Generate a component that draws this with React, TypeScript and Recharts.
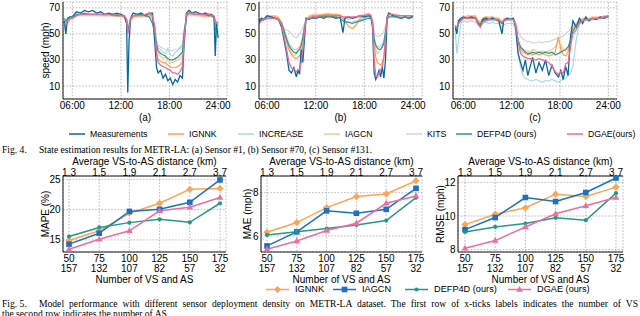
import React from 'react';
import { LineChart, Line, XAxis, YAxis, CartesianGrid, Label } from 'recharts';

const SANS = '"Liberation Sans", Arial, Helvetica, sans-serif';
const SERIF = '"Liberation Serif", "Times New Roman", serif';

// ---------------- Fig. 4 data ----------------
const hourTicks = [6, 12, 18, 24];
const hourTickLabels = ['06:00', '12:00', '18:00', '24:00'];
const speedTicks = [10, 30, 50, 70];

// (a) Sensor #1
const timeA = [5.0, 5.2, 5.4, 5.7, 6.0, 6.5, 7.0, 7.5, 8.0, 8.5, 9.0, 9.5, 10.0, 10.5, 11.0, 11.5, 12.0, 12.4, 12.7, 12.85, 13.0, 13.2, 13.5, 14.0, 14.5, 15.0, 15.5, 15.9, 16.2, 16.4, 16.6, 16.9, 17.2, 17.5, 17.8, 18.1, 18.4, 18.7, 19.0, 19.3, 19.6, 19.8, 20.1, 20.4, 20.8, 21.2, 21.6, 22.0, 22.4, 22.8, 23.2, 23.5, 23.65, 23.8, 24.0];
const measA = [60, 50, 62, 63, 63, 67, 66, 68, 67, 68, 66, 67, 65, 66, 65, 66, 65, 64, 58, 5, 44, 62, 66, 65, 66, 64, 66, 66, 42, 24, 20, 22, 16, 19, 14, 16, 11, 15, 13, 18, 16, 42, 66, 68, 66, 67, 66, 65, 66, 65, 65, 63, 33, 58, 47];
const ignnkA = [58, 56, 58, 61, 62, 64, 65, 65, 65, 65, 65, 65, 64, 65, 64, 64, 64, 63, 60, 52, 55, 61, 63, 64, 64, 64, 65, 63, 52, 36, 30, 29, 28, 28, 26, 25, 24, 24, 25, 26, 29, 48, 64, 66, 65, 65, 65, 64, 64, 64, 64, 63, 58, 57, 56];
const increaseA = [61, 58, 60, 62, 63, 64, 65, 65, 65, 65, 64, 65, 64, 64, 64, 64, 64, 63, 61, 55, 57, 61, 63, 64, 64, 64, 64, 62, 55, 44, 39, 38, 36, 35, 39, 34, 33, 36, 37, 39, 41, 52, 63, 65, 65, 65, 64, 64, 64, 64, 64, 63, 60, 59, 58];
const iagcnA = [59, 57, 59, 62, 62, 64, 64, 65, 65, 64, 65, 64, 64, 64, 64, 63, 64, 63, 60, 54, 56, 61, 63, 64, 63, 64, 64, 62, 54, 40, 35, 33, 31, 32, 29, 28, 28, 29, 30, 31, 34, 50, 63, 65, 65, 64, 64, 64, 63, 64, 63, 63, 59, 58, 57];
const kitsA = [60, 58, 60, 62, 63, 64, 64, 64, 64, 64, 64, 64, 64, 64, 64, 64, 63, 63, 61, 56, 58, 61, 63, 63, 63, 63, 63, 61, 55, 45, 41, 40, 39, 38, 38, 37, 37, 38, 38, 40, 42, 53, 63, 64, 64, 64, 64, 63, 63, 63, 63, 62, 60, 60, 59];
const defpA = [62, 60, 61, 63, 63, 65, 65, 66, 65, 65, 65, 65, 65, 65, 65, 64, 64, 64, 61, 53, 56, 62, 64, 65, 65, 64, 63, 58, 50, 42, 37, 35, 34, 33, 31, 30, 30, 31, 32, 34, 36, 50, 64, 66, 66, 65, 65, 65, 65, 64, 64, 63, 55, 50, 48];
const dgaeA = [58, 57, 60, 62, 62, 64, 65, 65, 65, 65, 65, 65, 65, 65, 64, 65, 64, 64, 61, 50, 54, 62, 64, 64, 64, 65, 66, 64, 55, 35, 28, 26, 25, 24, 23, 22, 20, 20, 19, 21, 25, 45, 65, 66, 66, 65, 65, 65, 65, 65, 64, 64, 60, 59, 58];

// (b) Sensor #70
const timeB = [5.0, 5.3, 5.6, 6.0, 6.5, 7.0, 7.4, 7.8, 8.1, 8.4, 8.7, 9.0, 9.3, 9.6, 9.8, 10.0, 10.2, 10.4, 10.6, 10.8, 11.2, 11.6, 12.0, 12.5, 13.0, 13.5, 14.0, 14.5, 15.0, 15.35, 15.6, 16.0, 16.5, 17.0, 17.5, 18.0, 18.5, 18.8, 19.0, 19.2, 19.4, 19.6, 19.8, 20.0, 20.2, 20.4, 20.6, 20.8, 21.0, 21.5, 22.0, 22.5, 23.0, 23.5, 24.0];
const measB = [60, 62, 61, 64, 63, 62, 61, 55, 45, 35, 22, 20, 24, 17, 22, 19, 38, 28, 45, 62, 61, 63, 62, 63, 62, 64, 63, 62, 63, 51, 62, 63, 62, 63, 64, 63, 64, 63, 55, 20, 15, 18, 22, 17, 25, 16, 30, 63, 66, 64, 63, 62, 63, 62, 64];
const ignnkB = [59, 61, 61, 63, 63, 63, 62, 58, 52, 45, 38, 34, 32, 31, 32, 33, 36, 42, 52, 61, 63, 64, 64, 64, 65, 65, 65, 65, 64, 62, 60, 56, 54, 57, 62, 64, 65, 64, 60, 42, 32, 28, 27, 26, 28, 32, 45, 62, 65, 65, 64, 64, 64, 64, 64];
const increaseB = [60, 61, 61, 63, 63, 63, 62, 59, 54, 48, 42, 40, 38, 38, 39, 40, 42, 48, 55, 61, 62, 63, 63, 63, 63, 63, 63, 63, 62, 60, 60, 59, 59, 60, 61, 62, 63, 62, 59, 48, 42, 40, 40, 41, 42, 45, 52, 61, 64, 64, 63, 63, 63, 63, 63];
const iagcnB = [60, 62, 62, 64, 64, 64, 63, 59, 52, 44, 38, 36, 33, 35, 38, 40, 44, 48, 55, 62, 64, 65, 65, 65, 65, 66, 65, 65, 65, 63, 62, 61, 62, 63, 64, 65, 66, 65, 61, 45, 38, 35, 36, 38, 40, 42, 50, 62, 65, 65, 65, 64, 64, 64, 64];
const kitsB = [61, 62, 62, 63, 63, 62, 60, 56, 54, 53, 52, 50, 48, 47, 48, 50, 52, 55, 58, 62, 63, 63, 63, 63, 63, 63, 63, 63, 63, 62, 62, 62, 62, 62, 63, 63, 63, 63, 60, 52, 49, 48, 48, 49, 50, 52, 56, 62, 64, 64, 63, 63, 63, 63, 63];
const defpB = [59, 61, 61, 62, 62, 62, 61, 58, 52, 46, 41, 38, 36, 35, 37, 38, 41, 47, 55, 61, 62, 62, 62, 63, 63, 63, 63, 63, 62, 60, 59, 59, 58, 59, 60, 61, 62, 62, 58, 46, 41, 39, 38, 38, 40, 43, 52, 61, 63, 63, 63, 62, 63, 62, 63];
const dgaeB = [58, 60, 61, 62, 62, 62, 61, 57, 48, 38, 28, 24, 23, 21, 22, 23, 28, 38, 52, 61, 62, 63, 63, 64, 64, 64, 64, 64, 64, 63, 63, 63, 63, 63, 64, 64, 65, 64, 58, 30, 18, 17, 20, 22, 25, 32, 48, 62, 65, 65, 64, 64, 64, 64, 64];

// (c) Sensor #131
const timeC = [5.0, 5.2, 5.4, 5.7, 6.0, 6.5, 7.0, 7.5, 7.8, 8.1, 8.4, 8.8, 9.2, 9.6, 10.0, 10.4, 10.8, 11.0, 11.4, 11.8, 12.2, 12.5, 12.8, 13.1, 13.4, 13.7, 14.0, 14.3, 14.6, 15.0, 15.4, 15.8, 16.2, 16.6, 17.0, 17.4, 17.8, 18.1, 18.4, 18.7, 19.0, 19.3, 19.6, 20.0, 20.4, 20.8, 21.2, 21.6, 22.0, 22.5, 23.0, 23.5, 24.0];
const measC = [55, 50, 60, 62, 63, 62, 63, 62, 58, 56, 61, 62, 61, 62, 61, 60, 50, 60, 62, 61, 62, 55, 35, 28, 22, 30, 18, 25, 32, 20, 28, 22, 30, 18, 26, 20, 17, 22, 15, 25, 18, 48, 60, 55, 62, 58, 63, 60, 62, 61, 63, 62, 64];
const ignnkC = [56, 54, 58, 61, 62, 63, 63, 63, 60, 58, 62, 63, 62, 63, 62, 62, 58, 61, 62, 62, 62, 58, 44, 38, 36, 35, 34, 35, 34, 35, 34, 35, 34, 33, 34, 36, 48, 38, 34, 33, 36, 45, 54, 57, 60, 61, 62, 61, 62, 62, 63, 63, 63];
const increaseC = [52, 35, 45, 58, 60, 59, 60, 59, 57, 56, 58, 59, 58, 59, 58, 58, 55, 57, 58, 58, 58, 52, 35, 25, 18, 16, 15, 14, 14, 15, 14, 13, 14, 14, 15, 14, 13, 14, 15, 16, 18, 20, 25, 45, 58, 60, 61, 60, 61, 62, 62, 62, 63];
const iagcnC = [57, 55, 59, 62, 63, 64, 64, 64, 61, 59, 62, 63, 63, 63, 62, 62, 59, 61, 62, 62, 62, 57, 45, 40, 38, 37, 37, 36, 38, 37, 36, 37, 36, 37, 38, 40, 45, 42, 38, 37, 38, 45, 55, 58, 61, 62, 62, 62, 63, 63, 63, 64, 64];
const kitsC = [57, 55, 58, 61, 62, 62, 62, 62, 60, 59, 61, 61, 61, 61, 61, 60, 58, 60, 61, 61, 61, 58, 52, 48, 46, 45, 44, 44, 43, 43, 44, 43, 44, 44, 45, 46, 47, 48, 48, 50, 52, 54, 56, 58, 60, 61, 61, 61, 62, 62, 62, 62, 63];
const defpC = [56, 54, 58, 61, 62, 62, 62, 62, 59, 57, 60, 61, 61, 61, 61, 60, 58, 60, 61, 61, 61, 56, 45, 40, 38, 36, 35, 35, 36, 35, 36, 35, 36, 35, 36, 34, 35, 36, 37, 38, 40, 45, 52, 56, 59, 60, 61, 61, 62, 62, 62, 63, 63];
const dgaeC = [56, 55, 58, 60, 62, 62, 62, 62, 58, 55, 59, 60, 61, 61, 61, 61, 59, 60, 61, 61, 61, 57, 45, 35, 33, 32, 31, 31, 30, 30, 31, 30, 29, 28, 25, 21, 19, 21, 20, 27, 28, 40, 50, 53, 58, 60, 61, 61, 62, 62, 62, 63, 63];

// ---------------- Fig. 5 data ----------------
const vsCounts = [50, 75, 100, 125, 150, 175];
const asCounts = [157, 132, 107, 82, 57, 32];
const distLabels = ['1.3', '1.5', '1.9', '2.1', '2.7', '3.7'];

const mapeIGNNK = [14.9, 16.5, 19.4, 21.05, 23.35, 23.5];
const mapeIAGCN = [14.3, 16.1, 19.7, 20.05, 21.2, 24.9];
const mapeDEFP = [15.55, 17.05, 17.85, 18.4, 17.9, 21.05];
const mapeDGAE = [13.45, 15.1, 16.5, 19.8, 20.4, 22.0];

const maeIGNNK = [6.17, 6.62, 7.31, 7.82, 7.94, 8.55];
const maeIAGCN = [5.54, 6.19, 7.16, 7.05, 7.23, 8.2];
const maeDEFP = [6.05, 6.2, 6.34, 6.51, 6.71, 7.77];
const maeDGAE = [5.39, 5.77, 6.25, 6.59, 7.51, 7.85];

const rmseIGNNK = [9.49, 10.11, 10.49, 11.3, 11.16, 11.72];
const rmseIAGCN = [9.19, 9.91, 11.1, 10.86, 11.4, 12.26];
const rmseDEFP = [9.05, 9.35, 9.55, 9.89, 9.75, 11.36];
const rmseDGAE = [8.08, 8.54, 9.35, 10.13, 10.61, 11.1];

// ---------------- helpers ----------------
function timeRows(t: number[], s: Record<string, number[]>) {
  return t.map((tt, i) => {
    const r: any = { t: tt };
    for (const k of Object.keys(s)) r[k] = s[k][i];
    return r;
  });
}
function metricRows(s: Record<string, number[]>) {
  return vsCounts.map((v, i) => {
    const r: any = { vs: v, dist: distLabels[i] };
    for (const k of Object.keys(s)) r[k] = s[k][i];
    return r;
  });
}

const rowsA = timeRows(timeA, { meas: measA, ignnk: ignnkA, increase: increaseA, iagcn: iagcnA, kits: kitsA, defp: defpA, dgae: dgaeA });
const rowsB = timeRows(timeB, { meas: measB, ignnk: ignnkB, increase: increaseB, iagcn: iagcnB, kits: kitsB, defp: defpB, dgae: dgaeB });
const rowsC = timeRows(timeC, { meas: measC, ignnk: ignnkC, increase: increaseC, iagcn: iagcnC, kits: kitsC, defp: defpC, dgae: dgaeC });

const rowsMAPE = metricRows({ ignnk: mapeIGNNK, iagcn: mapeIAGCN, defp: mapeDEFP, dgae: mapeDGAE });
const rowsMAE = metricRows({ ignnk: maeIGNNK, iagcn: maeIAGCN, defp: maeDEFP, dgae: maeDGAE });
const rowsRMSE = metricRows({ ignnk: rmseIGNNK, iagcn: rmseIAGCN, defp: rmseDEFP, dgae: rmseDGAE });

const topSeries: Record<string, { name: string; color: string; w: number }> = {
  meas: { name: 'Measurements', color: '#0b679c', w: 1.3 },
  ignnk: { name: 'IGNNK', color: '#ffa04c', w: 1.2 },
  increase: { name: 'INCREASE', color: '#a6dbe6', w: 1.2 },
  iagcn: { name: 'IAGCN', color: '#f8c6a0', w: 1.2 },
  kits: { name: 'KITS', color: '#d5d5d5', w: 1.2 },
  defp: { name: 'DEFP4D (ours)', color: '#27998c', w: 1.2 },
  dgae: { name: 'DGAE(ours)', color: '#ec6a9e', w: 1.3 },
};
const topDrawOrder = ['kits', 'increase', 'iagcn', 'ignnk', 'meas', 'defp', 'dgae'];
const topLegendOrder = ['meas', 'ignnk', 'increase', 'iagcn', 'kits', 'defp', 'dgae'];
const topLegendTextX = [90, 189, 259, 345, 427, 477, 588];

const metricSeries = [
  { key: 'ignnk', name: 'IGNNK', color: '#ffa552', marker: 'diamond' },
  { key: 'iagcn', name: 'IAGCN', color: '#1b71c3', marker: 'square' },
  { key: 'defp', name: 'DEFP4D (ours)', color: '#25988b', marker: 'circle' },
  { key: 'dgae', name: 'DGAE (ours)', color: '#ec6f9d', marker: 'triangle' },
];
const metricLegendTextX = [295, 362, 434, 537];

function marker(type: string, cx: number, cy: number, color: string, key?: string) {
  if (cx == null || cy == null) return <g key={key} />;
  switch (type) {
    case 'diamond':
      return <polygon key={key} points={`${cx},${cy - 3.6} ${cx + 3.6},${cy} ${cx},${cy + 3.6} ${cx - 3.6},${cy}`} fill={color} />;
    case 'square':
      return <rect key={key} x={cx - 2.8} y={cy - 2.8} width={5.6} height={5.6} fill={color} />;
    case 'circle':
      return <circle key={key} cx={cx} cy={cy} r={2.1} fill={color} />;
    default:
      return <polygon key={key} points={`${cx},${cy - 3.6} ${cx + 3.3},${cy + 2.3} ${cx - 3.3},${cy + 2.3}`} fill={color} />;
  }
}

const tickStyle = { fontSize: 10, fill: '#000', fontFamily: SANS };
const gridProps = { stroke: '#a9a9a9', strokeDasharray: '1.6 1.6', strokeWidth: 0.8 };
const axisLine = { stroke: '#000', strokeWidth: 0.9 };

type Pos = { left: number; top: number; width: number; height: number; margin: { top: number; right: number; bottom: number; left: number }; yw: number };

function TimePanel({ rows, pos, domain, letter, yLabel }: { rows: any[]; pos: Pos; domain: [number, number]; letter: string; yLabel?: string }) {
  return (
    <div style={{ position: 'absolute', left: pos.left, top: pos.top }}>
      <LineChart width={pos.width} height={pos.height} data={rows} margin={pos.margin}>
        <CartesianGrid {...gridProps} />
        <XAxis
          dataKey="t"
          type="number"
          domain={domain}
          allowDataOverflow
          ticks={hourTicks}
          interval={0}
          tickFormatter={(v: number) => hourTickLabels[hourTicks.indexOf(v)]}
          tickSize={0}
          tickMargin={3}
          height={24}
          axisLine={axisLine}
          tick={tickStyle}
        >
          <Label value={letter} position="insideBottom" offset={2} fill="#000" fontSize={10} fontFamily={SANS} />
        </XAxis>
        <XAxis xAxisId="top" orientation="top" dataKey="t" type="number" domain={domain} allowDataOverflow tick={false} tickLine={false} height={0} axisLine={axisLine} />
        <YAxis type="number" domain={[0, 74.5]} allowDataOverflow ticks={speedTicks} interval={0} tickSize={0} tickMargin={3} width={pos.yw} axisLine={axisLine} tick={tickStyle}>
          {yLabel ? <Label value={yLabel} angle={-90} position="center" fill="#000" fontSize={10} fontFamily={SANS} /> : null}
        </YAxis>
        <YAxis yAxisId="right" orientation="right" domain={[0, 1]} allowDataOverflow tick={false} tickLine={false} width={0} axisLine={axisLine} />
        {topDrawOrder.map((k) => (
          <Line key={k} type="linear" dataKey={k} stroke={topSeries[k].color} strokeWidth={topSeries[k].w} dot={false} isAnimationActive={false} />
        ))}
      </LineChart>
    </div>
  );
}

function TwoRowTick(p: any) {
  const { x, y, index, payload } = p;
  return (
    <text x={x} y={y} textAnchor="middle" fontSize={10} fill="#000" fontFamily={SANS}>
      <tspan x={x} dy="0.71em">{payload.value}</tspan>
      <tspan x={x} dy="1.0em">{asCounts[index]}</tspan>
    </text>
  );
}

function MetricPanel({ rows, pos, domain, ticks, yLabel, pad }: { rows: any[]; pos: Pos; domain: [number, number]; ticks: number[]; yLabel: string; pad: number }) {
  return (
    <div style={{ position: 'absolute', left: pos.left, top: pos.top }}>
      <LineChart width={pos.width} height={pos.height} data={rows} margin={pos.margin}>
        <CartesianGrid {...gridProps} />
        <XAxis dataKey="vs" type="category" padding={{ left: pad, right: pad }} interval={0} tickSize={0} tickMargin={2.5} height={32} axisLine={axisLine} tick={(p: any) => <TwoRowTick {...p} />}>
          <Label value="Number of VS and AS" position="insideBottom" offset={1} fill="#000" fontSize={10} fontFamily={SANS} />
        </XAxis>
        <XAxis xAxisId="top" orientation="top" dataKey="dist" type="category" padding={{ left: pad, right: pad }} interval={0} tickSize={0} tickMargin={0} height={26} axisLine={axisLine} tick={tickStyle}>
          <Label value="Average VS-to-AS distance (km)" position="insideTop" offset={8} fill="#000" fontSize={10} fontFamily={SANS} />
        </XAxis>
        <YAxis type="number" domain={domain} allowDataOverflow ticks={ticks} interval={0} tickSize={0} tickMargin={2.5} width={pos.yw} axisLine={axisLine} tick={tickStyle}>
          <Label value={yLabel} angle={-90} position="center" fill="#000" fontSize={10} fontFamily={SANS} />
        </YAxis>
        <YAxis yAxisId="right" orientation="right" domain={[0, 1]} allowDataOverflow tick={false} tickLine={false} width={0} axisLine={axisLine} />
        {metricSeries.map((s) => (
          <Line
            key={s.key}
            type="linear"
            dataKey={s.key}
            stroke={s.color}
            strokeWidth={1.5}
            isAnimationActive={false}
            dot={(p: any) => marker(s.marker, p.cx, p.cy, s.color, `${s.key}-${p.index}`)}
          />
        ))}
      </LineChart>
    </div>
  );
}

const captionStyle: React.CSSProperties = { position: 'absolute', fontFamily: SERIF, fontSize: 9.6, lineHeight: '11px', whiteSpace: 'nowrap' };

export default function App() {
  return (
    <div style={{ position: 'absolute', left: 0, top: 0, width: 640, height: 316, overflow: 'hidden', background: '#fff', fontFamily: SANS, color: '#000' }}>
      {/* Fig. 4 panels */}
      <TimePanel rows={rowsA} domain={[4.85, 25.1]} letter="(a)" yLabel="speed (mph)"
        pos={{ left: 0, top: 0, width: 240, height: 125, margin: { top: 2, right: 13, bottom: 2, left: 27 }, yw: 36 }} />
      <TimePanel rows={rowsB} domain={[5.0, 25.1]} letter="(b)"
        pos={{ left: 230, top: 0, width: 205, height: 125, margin: { top: 2, right: 13, bottom: 2, left: 9 }, yw: 20 }} />
      <TimePanel rows={rowsC} domain={[4.72, 25.07]} letter="(c)"
        pos={{ left: 425, top: 0, width: 205, height: 125, margin: { top: 2, right: 13, bottom: 2, left: 8 }, yw: 20 }} />

      {/* Fig. 4 legend */}
      {topLegendOrder.map((k, i) => (
        <div key={k} style={{ position: 'absolute', left: topLegendTextX[i] - 21, top: 128, height: 12, display: 'flex', alignItems: 'center', whiteSpace: 'nowrap' }}>
          <svg width={16} height={12}><line x1={0} x2={16} y1={6} y2={6} stroke={topSeries[k].color} strokeWidth={1.5} /></svg>
          <span style={{ marginLeft: 5, fontSize: 8.7, lineHeight: '12px' }}>{topSeries[k].name}</span>
        </div>
      ))}

      {/* Fig. 4 caption */}
      <div style={{ ...captionStyle, left: 2, top: 144 }}>Fig. 4.</div>
      <div style={{ ...captionStyle, left: 39, top: 144 }}>
        State estimation results for METR-LA: (a) Sensor #1, (b) Sensor #70, (c) Sensor #131.
      </div>

      {/* Fig. 5 panels */}
      <MetricPanel rows={rowsMAPE} domain={[13.0, 25.55]} ticks={[15, 20, 25]} yLabel="MAPE (%)" pad={6}
        pos={{ left: 0, top: 150, width: 240, height: 134, margin: { top: 0, right: 14, bottom: 0, left: 27 }, yw: 36 }} />
      <MetricPanel rows={rowsMAE} domain={[5.26, 8.77]} ticks={[6, 8]} yLabel="MAE (mph)" pad={6}
        pos={{ left: 230, top: 150, width: 205, height: 134, margin: { top: 0, right: 13, bottom: 0, left: 3 }, yw: 28 }} />
      <MetricPanel rows={rowsRMSE} domain={[7.86, 12.38]} ticks={[8, 10, 12]} yLabel="RMSE (mph)" pad={7}
        pos={{ left: 420, top: 150, width: 215, height: 134, margin: { top: 0, right: 12, bottom: 0, left: 2 }, yw: 36 }} />

      {/* Fig. 5 legend */}
      {metricSeries.map((s, i) => (
        <div key={s.key} style={{ position: 'absolute', left: metricLegendTextX[i] - 29, top: 284, height: 11, display: 'flex', alignItems: 'center', whiteSpace: 'nowrap' }}>
          <svg width={23} height={11}>
            <line x1={0} x2={23} y1={5.5} y2={5.5} stroke={s.color} strokeWidth={1.5} />
            {marker(s.marker, 11.5, 5.5, s.color)}
          </svg>
          <span style={{ marginLeft: 6, fontSize: 9.2, lineHeight: '11px' }}>{s.name}</span>
        </div>
      ))}

      {/* Fig. 5 caption */}
      <div style={{ ...captionStyle, left: 2, top: 298 }}>Fig. 5.</div>
      <div style={{ ...captionStyle, left: 39, top: 298, width: 599, whiteSpace: 'normal', textAlign: 'justify', textAlignLast: 'justify', height: 11, overflow: 'hidden' }}>
        Model performance with different sensor deployment density on METR-LA dataset. The first row of x-ticks labels indicates the number of VS
      </div>
      <div style={{ ...captionStyle, left: 2, top: 308 }}>
        the second row indicates the number of AS.
      </div>
    </div>
  );
}
